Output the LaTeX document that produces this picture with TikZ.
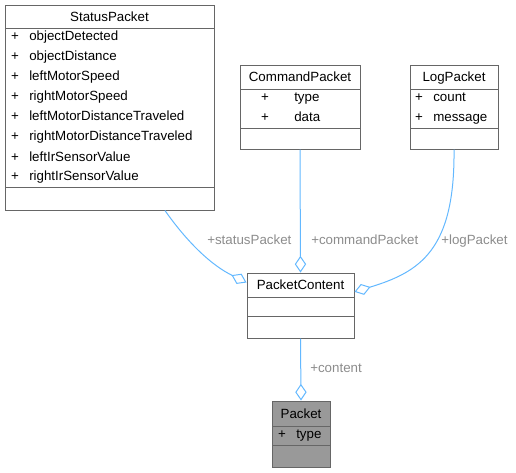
\documentclass[tikz,border=0pt]{standalone}
\usepackage{fontspec}
\setmainfont{Liberation Sans}
\usetikzlibrary{arrows.meta,fit}

\definecolor{edgeblue}{HTML}{63B8FF}
\definecolor{boxline}{HTML}{666666}
\definecolor{lblgrey}{HTML}{8C8C8C}
\definecolor{packetfill}{HTML}{999999}

\tikzset{
  cls/.style={draw=boxline, line width=0.75pt, inner sep=0pt},
  sepline/.style={draw=boxline, line width=0.75pt},
  txt/.style={inner sep=0pt, text height=7.2pt, text depth=0pt, font=\fontsize{10}{12}\selectfont},
  mem/.style={txt, anchor=west},
  lbl/.style={txt, anchor=west, text=lblgrey},
  agg/.style={draw=edgeblue, line width=0.75pt, {Diamond[open,length=12.5pt,width=8.5pt]}-}
}

\begin{document}
\begin{tikzpicture}[x=0.75pt,y=-0.75pt]
            \useasboundingbox (0,0) rectangle (516,472);
            % StatusPacket
            \node[cls, fit={(5,5) (214,210)}] (status) {};
            \node[txt] (statusTitle) at (109.5,16.5) {StatusPacket};
            \draw[sepline] (5,28) -- (214,28);
            \draw[sepline] (5,187) -- (214,187);
            \node[txt] (s1p) at (15,36) {+};  \node[mem] (s1) at (29,36) {objectDetected};
            \node[txt] (s2p) at (15,56) {+};  \node[mem] (s2) at (29,56) {objectDistance};
            \node[txt] (s3p) at (15,76) {+};  \node[mem] (s3) at (29,76) {leftMotorSpeed};
            \node[txt] (s4p) at (15,96) {+};  \node[mem] (s4) at (29,96) {rightMotorSpeed};
            \node[txt] (s5p) at (15,116) {+}; \node[mem] (s5) at (29,116) {leftMotorDistanceTraveled};
            \node[txt] (s6p) at (15,136) {+}; \node[mem] (s6) at (29,136) {rightMotorDistanceTraveled};
            \node[txt] (s7p) at (15,157) {+}; \node[mem] (s7) at (29,157) {leftIrSensorValue};
            \node[txt] (s8p) at (15,176) {+}; \node[mem] (s8) at (29,176) {rightIrSensorValue};
            % CommandPacket
            \node[cls, fit={(240,65) (360,149)}] (command) {};
            \node[txt] (commandTitle) at (300,77) {CommandPacket};
            \draw[sepline] (240,89) -- (360,89);
            \draw[sepline] (240,128) -- (360,128);
            \node[txt] (c1p) at (265,97) {+};  \node[mem] (c1) at (294,97) {type};
            \node[txt] (c2p) at (265,117) {+}; \node[mem] (c2) at (294,117) {data};
            % LogPacket
            \node[cls, fit={(410,65) (498,149)}] (log) {};
            \node[txt] (logTitle) at (454,77) {LogPacket};
            \draw[sepline] (410,89) -- (498,89);
            \draw[sepline] (410,128) -- (498,128);
            \node[txt] (l1p) at (419,97) {+};  \node[mem] (l1) at (433,97) {count};
            \node[txt] (l2p) at (419,117) {+}; \node[mem] (l2) at (433,117) {message};
            % PacketContent
            \node[cls, fit={(247,273) (354,338)}] (pcontent) {};
            \node[txt] (pcontentTitle) at (300.5,285) {PacketContent};
            \draw[sepline] (247,297) -- (354,297);
            \draw[sepline] (247,316) -- (354,316);
            % Packet
            \node[cls, fill=packetfill, fit={(272,401) (330,467)}] (packet) {};
            \node[txt] (packetTitle) at (301,413.5) {Packet};
            \draw[sepline] (272,426) -- (330,426);
            \draw[sepline] (272,445) -- (330,445);
            \node[txt] (p1p) at (282,434) {+}; \node[mem] (p1) at (296,434) {type};
            % aggregations
            \draw[agg] (packet.north) -- (pcontent.south);
            \node[lbl] (lcontent) at (310,368) {+content};
            \draw[agg] (pcontent.north) -- (command.south);
            \node[lbl] (lcommand) at (311,240) {+commandPacket};
            \draw[agg] ([yshift=-7.5pt]pcontent.north west) .. controls (205,262) and (180,232) .. ([xshift=41.6pt]status.south);
            \node[lbl] (lstatus) at (207,240) {+statusPacket};
            \draw[agg] ([yshift=-14.5pt]pcontent.north east) .. controls (420,272) and (455,250) .. (log.south);
            \node[lbl] (llog) at (441,240) {+logPacket};
        \end{tikzpicture}
\end{document}
